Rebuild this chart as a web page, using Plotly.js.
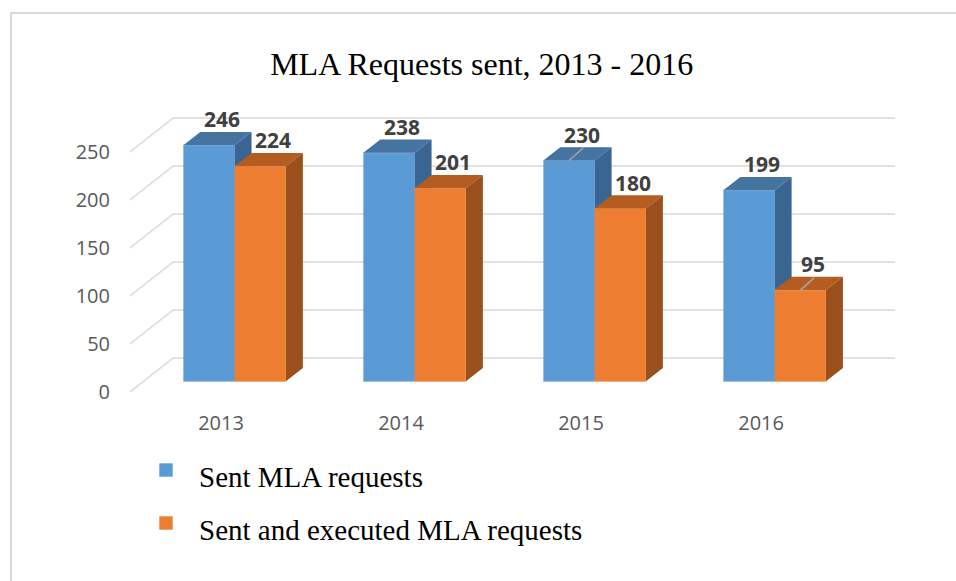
<!DOCTYPE html>
<html>
<head>
<meta charset="utf-8">
<script src="https://cdn.plot.ly/plotly-3.0.1.min.js"></script>
<style>html,body{margin:0;padding:0;background:#fff;}#chart{width:956px;height:581px;}</style>
</head>
<body>
<div id="chart"></div>
<script>
// ---- data ----
const years = ['2013', '2014', '2015', '2016'];
const sentRequests = [246, 238, 230, 199];
const executedRequests = [224, 201, 180, 95];
const seriesNames = ['Sent MLA requests', 'Sent and executed MLA requests'];
const yTickValues = [0, 50, 100, 150, 200, 250];
const chartTitle = 'MLA Requests sent, 2013 - 2016';

// ---- styles / geometry ----
const colors = [
  {front: '#5B9BD5', top: '#4674A1', side: '#3A6592', edge: '#86B4E0'},
  {front: '#ED7D31', top: '#B55C21', side: '#9A4F1C', edge: '#F29A5E'}
];
const W = 956, H = 581;
const M = {l: 130, r: 61, t: 113, b: 189};
const X_MIN = -0.5056, X_MAX = 3.744;
const Y_MAX = (H - M.t - M.b) / 0.96;
const BAR_W = 0.285;
const DEPTH_X = 0.2406, DEPTH_Y = 35.4;   // floor depth (front plane -> back wall)
const F_FRONT = 0.315, F_BAR = 0.39;
const fx = F_FRONT * DEPTH_X, fy = F_FRONT * DEPTH_Y;
const bx = F_BAR * DEPTH_X, by = F_BAR * DEPTH_Y;
const seriesOffsets = [-BAR_W, 0];
const leaders = [[0, 2], [1, 3]]; // [series, category] labels with a leader line

const traces = [];
// gridlines (floor left wall + back wall)
const gx = [], gy = [];
yTickValues.forEach(v => {
  gx.push(X_MIN, X_MIN + DEPTH_X, X_MAX, null);
  gy.push(v, v + DEPTH_Y, v + DEPTH_Y, null);
});
traces.push({type: 'scatter', mode: 'lines', x: gx, y: gy, line: {color: '#D9D9D9', width: 1.5},
  hoverinfo: 'skip', showlegend: false});

const allSeries = [sentRequests, executedRequests];
const annotations = [];
const shapes = [];

allSeries.forEach((vals, s) => {
  const front = {x: [], y: []}, top = {x: [], y: []}, side = {x: [], y: []};
  vals.forEach((v, i) => {
    const xl = i + seriesOffsets[s] + fx, xr = xl + BAR_W;
    const y0 = fy, y1 = fy + v;
    front.x.push(xl, xr, xr, xl, null); front.y.push(y0, y0, y1, y1, null);
    top.x.push(xl, xr, xr + bx, xl + bx, null); top.y.push(y1, y1, y1 + by, y1 + by, null);
    side.x.push(xr, xr + bx, xr + bx, xr, null); side.y.push(y0, y0 + by, y1 + by, y1, null);
    annotations.push({x: (xl + xr) / 2, y: y1, xref: 'x', yref: 'y', text: String(v), showarrow: false,
      xshift: 13, yshift: 26, font: {family: 'Open Sans', size: 21, color: '#404040', weight: 'bold'}});
  });
  traces.push({type: 'scatter', mode: 'lines', x: front.x, y: front.y, fill: 'toself', fillcolor: colors[s].front,
    line: {color: colors[s].edge, width: 1}, hoverinfo: 'skip', showlegend: false, name: seriesNames[s]});
  traces.push({type: 'scatter', mode: 'lines', x: top.x, y: top.y, fill: 'toself', fillcolor: colors[s].top,
    line: {width: 0}, hoverinfo: 'skip', showlegend: false});
  traces.push({type: 'scatter', mode: 'lines', x: side.x, y: side.y, fill: 'toself', fillcolor: colors[s].side,
    line: {width: 0}, hoverinfo: 'skip', showlegend: false});
});

leaders.forEach(([s, i]) => {
  const xc = i + seriesOffsets[s] + fx + BAR_W / 2;
  shapes.push({type: 'line', xref: 'x', yref: 'y', xsizemode: 'pixel', ysizemode: 'pixel',
    xanchor: xc, yanchor: fy + allSeries[s][i], x0: 0, y0: 0, x1: 14, y1: 12.5,
    line: {color: '#A6A6A6', width: 1.5}});
});

// legend (manual) in pixel -> paper
const PW = W - M.l - M.r, PH = H - M.t - M.b;
const px2x = p => (p - M.l) / PW;
const px2y = p => (H - M.b - p) / PH;
const legendRows = [470, 523];
seriesNames.forEach((nm, s) => {
  const cy = legendRows[s];
  shapes.push({type: 'rect', xref: 'paper', yref: 'paper', x0: px2x(159.3), x1: px2x(172.7),
    y0: px2y(cy - 6.7), y1: px2y(cy + 6.7), fillcolor: colors[s].front, line: {width: 0}});
  annotations.push({xref: 'paper', yref: 'paper', x: px2x(197), y: px2y(cy + 7), xanchor: 'left', yanchor: 'middle',
    text: nm, showarrow: false, font: {family: 'Liberation Serif', size: 29, color: '#000000'}});
});

// outer border
shapes.push({type: 'rect', xref: 'paper', yref: 'paper', x0: px2x(11), x1: px2x(990), y0: px2y(13), y1: px2y(620),
  line: {color: '#D9D9D9', width: 2}, fillcolor: 'rgba(0,0,0,0)', layer: 'below'});

const layout = {
  width: W, height: H,
  margin: M,
  paper_bgcolor: '#FFFFFF', plot_bgcolor: 'rgba(0,0,0,0)',
  showlegend: false,
  title: {text: chartTitle, xref: 'container', yref: 'container', x: 481.7 / W, y: 1 - 64 / H,
    xanchor: 'center', yanchor: 'middle', font: {family: 'Liberation Serif', size: 32, color: '#000000'}},
  xaxis: {range: [X_MIN, X_MAX], tickvals: [0, 1, 2, 3], ticktext: years, showgrid: false, zeroline: false,
    showline: false, ticks: '', ticklabelstandoff: 17, fixedrange: true,
    tickfont: {family: 'Open Sans', size: 20, color: '#595959'}},
  yaxis: {range: [0, Y_MAX], tickvals: yTickValues, showgrid: false, zeroline: false, showline: false,
    ticks: '', ticklabelstandoff: 19, fixedrange: true,
    tickfont: {family: 'Open Sans', size: 20, color: '#595959'}},
  annotations: annotations,
  shapes: shapes
};

Plotly.newPlot('chart', traces, layout, {displayModeBar: false, staticPlot: true});
</script>
</body>
</html>
